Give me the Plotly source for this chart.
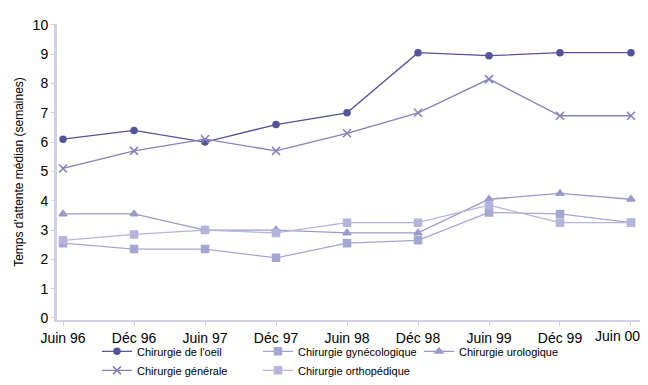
import plotly.graph_objects as go

periods = ["Juin 96", "Déc 96", "Juin 97", "Déc 97", "Juin 98", "Déc 98", "Juin 99", "Déc 99", "Juin 00"]
oeil = [6.1, 6.4, 6.0, 6.6, 7.0, 9.05, 8.95, 9.05, 9.05]
generale = [5.1, 5.7, 6.1, 5.7, 6.3, 7.0, 8.15, 6.9, 6.9]
gyneco = [2.55, 2.35, 2.35, 2.05, 2.55, 2.65, 3.6, 3.55, 3.25]
ortho = [2.65, 2.85, 3.0, 2.9, 3.25, 3.25, 3.85, 3.25, 3.25]
uro = [3.55, 3.55, 3.0, 3.0, 2.9, 2.9, 4.05, 4.25, 4.05]
yticks = [0, 1, 2, 3, 4, 5, 6, 7, 8, 9, 10]

FONT = "Liberation Sans Narrow, Liberation Sans, Arial, sans-serif"

series = [
    ("Chirurgie de l'oeil", oeil, "#54549a", "circle", 6),
    ("Chirurgie gynécologique", gyneco, "#a6a6d2", "square", 7),
    ("Chirurgie urologique", uro, "#9a9aca", "triangle-up", 7),
    ("Chirurgie générale", generale, "#8282b8", "x-thin-open", 8),
    ("Chirurgie orthopédique", ortho, "#b4b4dc", "square-x", 7),
]

xpos = list(range(len(periods)))
# the last label is drawn as an annotation nudged left so it stays on the page, as in the reference
ticktext = periods[:-1] + [""]

fig = go.Figure()
for name, vals, col, sym, sz in series:
    fig.add_trace(go.Scatter(
        x=xpos, y=vals, name=name, mode="lines+markers",
        line=dict(color=col, width=1.3),
        marker=dict(symbol=sym, size=sz, color=col, line=dict(color=col, width=1.5)),
    ))

fig.add_annotation(x=xpos[-1], y=0, xref="x", yref="paper", text=periods[-1],
                   showarrow=False, xanchor="center", yanchor="top", xshift=-13, yshift=-6,
                   font=dict(size=14, family=FONT, color="black"))

# the page body adds an 8px offset, so the figure is 8px smaller than the window
fig.update_layout(
    width=640, height=377,
    margin=dict(l=49, r=8, t=16, b=65, autoexpand=False),
    paper_bgcolor="white", plot_bgcolor="white",
    font=dict(family=FONT, color="black", size=12),
    showlegend=True,
    legend=dict(orientation="h", x=0.0686, xanchor="left", y=-0.057, yanchor="top",
                entrywidth=116, font=dict(size=11, family=FONT), tracegroupgap=0,
                itemwidth=30, bgcolor="rgba(0,0,0,0)"),
    xaxis=dict(showgrid=False, showline=True, linecolor="#d0d0e6", linewidth=2,
               ticks="outside", tickcolor="#d0d0e6", ticklen=4, automargin=False,
               tickvals=xpos, ticktext=ticktext,
               tickfont=dict(size=14, family=FONT), range=[-0.085, 8.127]),
    yaxis=dict(showgrid=False, showline=True, linecolor="#d0d0e6", linewidth=3,
               ticks="outside", tickcolor="#d0d0e6", ticklen=3, automargin=False,
               range=[-0.07, 10.03], tickvals=yticks, zeroline=False,
               tickfont=dict(size=14, family=FONT),
               title=dict(text="Temps d'attente médian (semaines)", font=dict(size=12, family=FONT), standoff=7)),
)
fig.write_html("out.html")
